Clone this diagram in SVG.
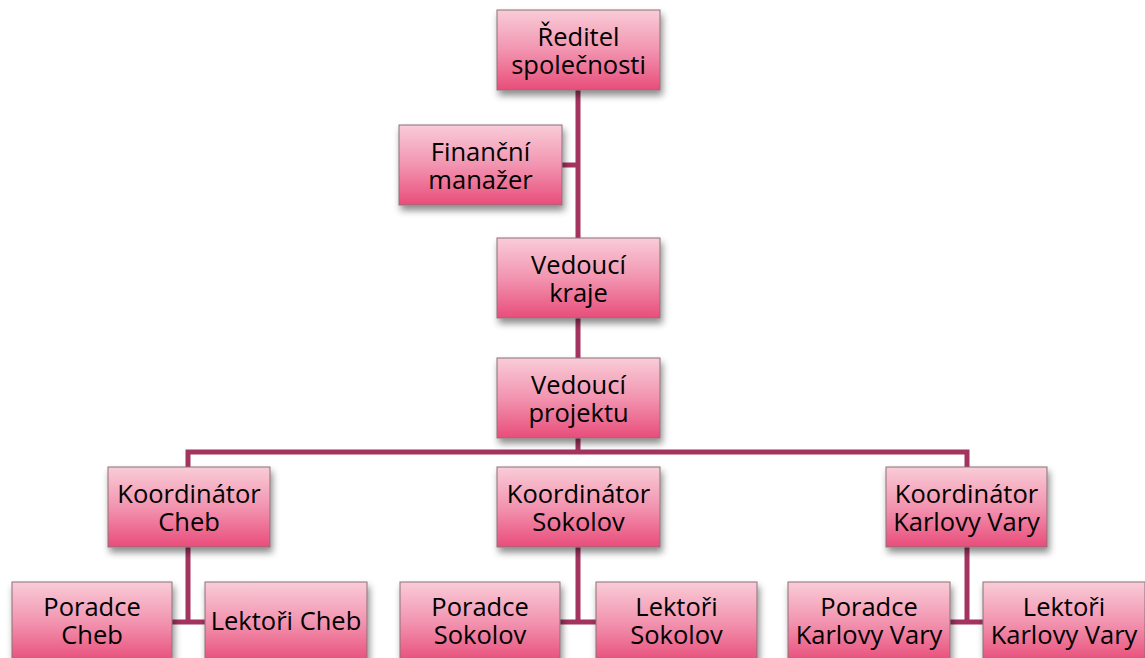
<svg xmlns="http://www.w3.org/2000/svg" width="1145" height="658" viewBox="0 0 1145 658">
<defs>
<linearGradient id="g" x1="0" y1="0" x2="0" y2="1">
<stop offset="0" stop-color="#f9ccd8"/>
<stop offset="0.5" stop-color="#f294b0"/>
<stop offset="1" stop-color="#e84d7a"/>
</linearGradient>
<filter id="sh" x="-20%" y="-20%" width="150%" height="160%">
<feDropShadow dx="2" dy="5" stdDeviation="3.5" flood-color="#000" flood-opacity="0.45"/>
</filter>
</defs>
<style>
.box{fill:url(#g);stroke:#8a7078;stroke-width:1;filter:url(#sh)}
.t{font-family:"Open Sans","Liberation Sans",sans-serif;font-size:25.5px;fill:#000;text-anchor:middle}
.c{fill:none;stroke:#a3335f;stroke-width:5;stroke-linejoin:miter}
</style>
<rect width="1145" height="658" fill="#fff"/>
<g id="connectors">
<path class="c" d="M578 90V238"/>
<path class="c" d="M562 165H578"/>
<path class="c" d="M578 318V358"/>
<path class="c" d="M578 438V452"/>
<path class="c" d="M188 467V452H967V467"/>
<path class="c" d="M188 547V622M172 622H205"/>
<path class="c" d="M578 547V622M560 622H596"/>
<path class="c" d="M967 547V622M950 622H983"/>
</g>
<g id="reditel"><rect class="box" x="497" y="10" width="163" height="80"/><text class="t" x="578.5" y="46">Ředitel</text><text class="t" x="578.5" y="74">společnosti</text></g>
<g id="financni"><rect class="box" x="399" y="125" width="163" height="80"/><text class="t" x="480.5" y="161">Finanční</text><text class="t" x="480.5" y="189">manažer</text></g>
<g id="kraje"><rect class="box" x="497" y="238" width="163" height="80"/><text class="t" x="578.5" y="274">Vedoucí</text><text class="t" x="578.5" y="302">kraje</text></g>
<g id="projektu"><rect class="box" x="497" y="358" width="163" height="80"/><text class="t" x="578.5" y="394">Vedoucí</text><text class="t" x="578.5" y="422">projektu</text></g>
<g id="koord-cheb"><rect class="box" x="108" y="467" width="162" height="80"/><text class="t" x="189" y="503">Koordinátor</text><text class="t" x="189" y="531">Cheb</text></g>
<g id="koord-sokolov"><rect class="box" x="497" y="467" width="163" height="80"/><text class="t" x="578.5" y="503">Koordinátor</text><text class="t" x="578.5" y="531">Sokolov</text></g>
<g id="koord-kv"><rect class="box" x="886" y="467" width="161" height="80"/><text class="t" x="966.5" y="503">Koordinátor</text><text class="t" x="966.5" y="531">Karlovy Vary</text></g>
<g id="poradce-cheb"><rect class="box" x="12" y="582" width="160" height="80"/><text class="t" x="92" y="616">Poradce</text><text class="t" x="92" y="644">Cheb</text></g>
<g id="lektori-cheb"><rect class="box" x="205" y="582" width="162" height="80"/><text class="t" x="286" y="630">Lektoři Cheb</text></g>
<g id="poradce-sokolov"><rect class="box" x="400" y="582" width="160" height="80"/><text class="t" x="480" y="616">Poradce</text><text class="t" x="480" y="644">Sokolov</text></g>
<g id="lektori-sokolov"><rect class="box" x="596" y="582" width="161" height="80"/><text class="t" x="676.5" y="616">Lektoři</text><text class="t" x="676.5" y="644">Sokolov</text></g>
<g id="poradce-kv"><rect class="box" x="788" y="582" width="162" height="80"/><text class="t" x="869" y="616">Poradce</text><text class="t" x="869" y="644">Karlovy Vary</text></g>
<g id="lektori-kv"><rect class="box" x="983" y="582" width="162" height="80"/><text class="t" x="1064" y="616">Lektoři</text><text class="t" x="1064" y="644">Karlovy Vary</text></g>
</svg>
